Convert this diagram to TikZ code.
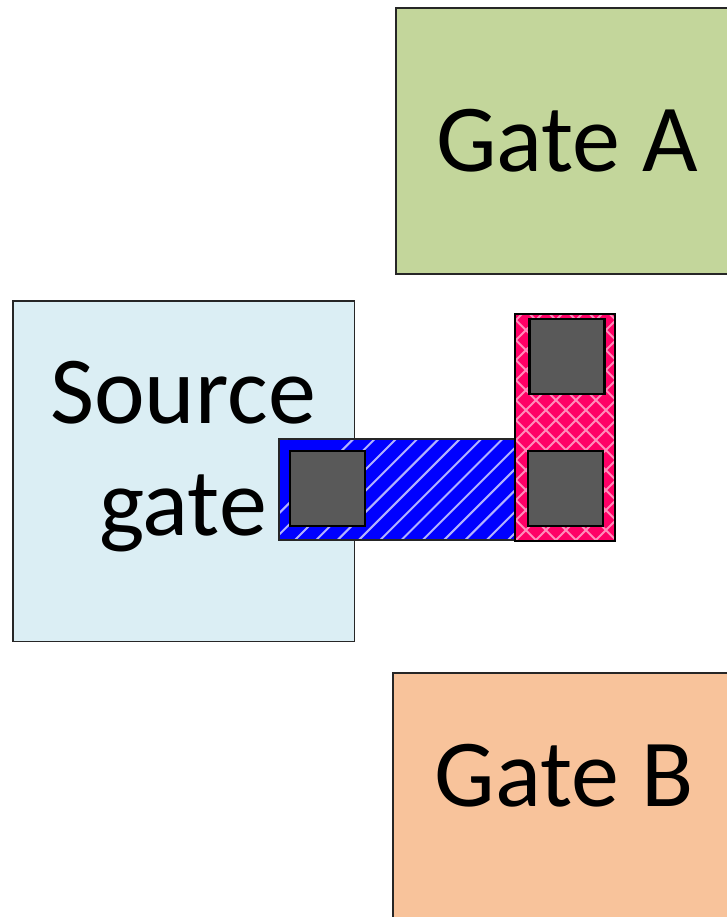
\documentclass[tikz,border=0pt]{standalone}
\usepackage{fontspec}
\setmainfont{Carlito}
\definecolor{gateA}{HTML}{C3D69B}
\definecolor{gateB}{HTML}{F8C39B}
\definecolor{srcgate}{HTML}{DBEEF4}
\definecolor{padgrey}{HTML}{595959}
\definecolor{hotpink}{HTML}{FF0066}
\definecolor{hatchblue}{HTML}{0000FF}
\definecolor{edgegrey}{HTML}{262626}
\tikzset{
  gatebox/.style={draw=edgegrey,line width=1.2pt,anchor=north west,inner sep=0pt,outer sep=0pt},
  gatelabel/.style={text=black,font=\fontsize{72}{84}\selectfont,align=center,inner sep=0pt},
  padbox/.style={draw=black,line width=1.7pt,fill=padgrey,anchor=north west,inner sep=0pt,outer sep=0pt,minimum width=56.3pt,minimum height=56.3pt},
  hatchline/.style={line width=1.5pt,line cap=butt},
  layerbox/.style={anchor=north west,inner sep=0pt,outer sep=0pt},
}
\begin{document}
\begin{tikzpicture}[x=0.75pt,y=-0.75pt]
\useasboundingbox (0,0) rectangle (727,917);
\fill[white] (0,0) rectangle (727,917);
% gates
\node[gatebox,fill=gateA,minimum width=251.25pt,minimum height=199.5pt] (gatea) at (396,8) {};
\node[gatelabel] (gatealabel) at (567,141) {Gate A};
\node[gatebox,fill=srcgate,minimum width=256pt,minimum height=255.5pt] (source) at (13,301) {};
\node[gatelabel] (sourcelabel) at (183,457) {Source\\gate};
\node[gatebox,fill=gateB,minimum width=253.5pt,minimum height=200pt] (gateb) at (393,673) {};
\node[gatelabel] (gateblabel) at (564,776) {Gate B};
% blue strip
\fill[hatchblue] (279,439) rectangle (516,540);
\begin{scope}
\clip (279,439) rectangle (516,540);
\foreach \k in {0,...,17}{
  \draw[hatchline,white!70!blue] ({252.4+21.3*\k},540) -- ++(101,-101);
}
\end{scope}
\node[layerbox,draw=edgegrey,line width=1.2pt,minimum width=177.75pt,minimum height=75.75pt] (strip) at (279,439) {};
% pink strip
\fill[hotpink] (515,314) rectangle (615,541);
\begin{scope}
\clip (515,314) rectangle (615,541);
\foreach \k in {-12,...,22}{
  \draw[hatchline,white!55!hotpink] ({515+20*\k},541) -- ++(227,-227);
  \draw[hatchline,white!55!hotpink] ({529.7+20*\k},314) -- ++(227,227);
}
\end{scope}
\node[layerbox,draw=black,line width=1.2pt,minimum width=75pt,minimum height=170.25pt] (pinkstrip) at (515,314) {};
% pads
\node[padbox] (padL) at (290,451) {};
\node[padbox] (padT) at (529.5,319) {};
\node[padbox] (padB) at (527.7,451) {};
\end{tikzpicture}
\end{document}
